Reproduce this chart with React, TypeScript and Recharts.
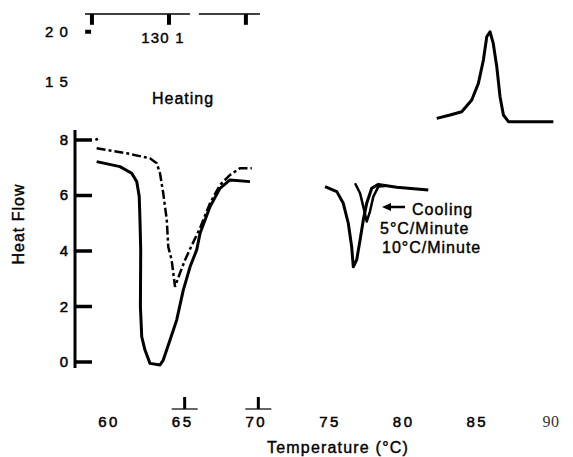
import React from 'react';
import { ComposedChart, Line, XAxis, YAxis, ReferenceLine } from 'recharts';

// heating scans (°C / heat flow)
const heat10Temp = [59.23, 60.81, 61.61, 61.95, 62.12, 62.17, 62.22, 62.2, 62.29, 62.51, 62.85, 63.53, 63.75, 64.21, 64.66, 65.11, 65.57, 66.02, 66.25, 66.93, 67.6, 68.28, 69.64];
const heat10Flow = [7.22, 7.04, 6.8, 6.5, 5.96, 5.12, 4.04, 1.99, 0.91, 0.43, -0.05, -0.11, 0.07, 0.79, 1.51, 2.59, 3.43, 4.04, 4.64, 5.6, 6.26, 6.56, 6.5];

const heat5Temp = [59.23, 61.27, 62.85, 63.31, 63.53, 63.75, 63.99, 64.09, 64.32, 64.55, 64.89, 65.23, 65.7, 66.25, 66.93, 67.6, 68.28, 68.96, 69.76];
const heat5Flow = [7.7, 7.52, 7.34, 7.16, 6.8, 6.08, 5.12, 4.15, 3.68, 2.71, 3.21, 3.68, 4.22, 4.83, 5.73, 6.38, 6.74, 6.98, 6.98];

// stray point above the dashed trace
const strayTemp = [59.23];
const strayFlow = [8.03];

// cooling scans
const cool10Temp = [74.73, 75.53, 75.97, 76.31, 76.54, 76.65, 76.88, 77.11, 77.33, 77.56, 77.9, 78.35, 79.6, 81.74];
const cool10Flow = [6.32, 6.14, 5.72, 5.0, 4.15, 3.43, 3.68, 4.4, 5.12, 5.72, 6.26, 6.4, 6.3, 6.2];

const cool5Temp = [76.77, 77.11, 77.33, 77.56, 77.78, 78.01, 78.35, 78.81];
const cool5Flow = [6.44, 6.08, 5.6, 5.06, 5.42, 5.96, 6.32, 6.34];

// the exotherm at the top right
const peakTemp = [82.31, 83.22, 84.01, 84.69, 85.14, 85.48, 85.71, 85.93, 86.15, 86.39, 86.61, 86.84, 87.18, 90.23];
const peakFlow = [8.78, 8.9, 9.02, 9.44, 10.04, 10.88, 11.72, 11.9, 11.48, 10.64, 9.56, 8.9, 8.66, 8.66];

const xTicks = [60, 65, 70, 75, 80, 85, 90];
const yTicks = [0, 2, 4, 6, 8];
const markedTicks = [65, 70];

// ruler along the top of the figure (°C)
const topRuleSegments = [[58.44, 65.56], [66.17, 70.31]];
const topRuleTicks = [58.91, 64.14, 69.36];

const X_MIN = 57.76;
const X_MAX = 91.02;
const Y_MIN = -0.216;
const Y_MAX = 12.54;

const zip = (t: number[], f: number[]) => t.map((temp, i) => ({ temp, flow: f[i] }));

const font = '"Liberation Sans", Arial, sans-serif';

const XTick = ({ x, y, payload }: any) => {
  const v = payload.value;
  const serif = v === 90;
  return (
    <g>
      {markedTicks.includes(v) && (
        <g>
          <line x1={x - 10} x2={x + 16} y1={y - 8} y2={y - 8} stroke="#000" strokeWidth={1.2} />
          <line x1={x + 3} x2={x + 3} y1={y - 20} y2={y - 8} stroke="#000" strokeWidth={3} />
        </g>
      )}
      <text
        x={x + 1}
        y={y}
        dy={10}
        textAnchor="middle"
        fontFamily={serif ? '"Liberation Serif", serif' : font}
        fontSize={serif ? 16 : 15}
        letterSpacing={serif ? 0.5 : 2.5}
        fill={serif ? '#333' : '#000'}
        stroke={serif ? 'none' : '#000'}
        strokeWidth={0.5}
      >
        {v}
      </text>
    </g>
  );
};

const YTick = ({ x, y, payload }: any) => (
  <g>
    <line x1={x + 7} x2={x + 24} y1={y} y2={y} stroke="#000" strokeWidth={3.5} />
    <text x={x} y={y} dy={5} textAnchor="end" fontFamily={font} fontSize={15} fill="#000" stroke="#000" strokeWidth={0.5}>
      {payload.value}
    </text>
  </g>
);

const txt = { fontFamily: font, fontSize: 16, letterSpacing: 1, fill: '#000', stroke: '#000', strokeWidth: 0.4 } as const;

export default function App() {
  return (
    <div style={{ position: 'absolute', left: 0, top: 0, width: 573, height: 457, background: '#fff' }}>
      <ComposedChart width={573} height={457} margin={{ top: 14, right: 8, bottom: 0, left: 0 }}>
        <XAxis
          dataKey="temp"
          type="number"
          domain={[X_MIN, X_MAX]}
          ticks={xTicks}
          axisLine={false}
          tickLine={false}
          tickSize={0}
          tickMargin={49}
          height={89}
          tick={<XTick />}
          allowDataOverflow
        />
        <YAxis
          type="number"
          domain={[Y_MIN, Y_MAX]}
          ticks={yTicks}
          axisLine={false}
          tickLine={false}
          tickSize={0}
          tickMargin={7}
          width={75}
          tick={<YTick />}
          allowDataOverflow
        />
        {/* the left axis only runs up to the 8 mark */}
        <ReferenceLine segment={[{ x: X_MIN, y: 8.36 }, { x: X_MIN, y: Y_MIN }]} stroke="#000" strokeWidth={3} ifOverflow="visible" />
        {topRuleSegments.map(([a, b], i) => (
          <ReferenceLine key={'r' + i} segment={[{ x: a, y: Y_MAX }, { x: b, y: Y_MAX }]} stroke="#000" strokeWidth={1.5} ifOverflow="visible" />
        ))}
        {topRuleTicks.map((t, i) => (
          <ReferenceLine key={'t' + i} segment={[{ x: t, y: Y_MAX }, { x: t, y: 12.15 }]} stroke="#000" strokeWidth={4} ifOverflow="visible" />
        ))}
        <ReferenceLine segment={[{ x: 58.45, y: 11.9 }, { x: 58.85, y: 11.9 }]} stroke="#000" strokeWidth={4} ifOverflow="visible" />

        <Line data={zip(heat10Temp, heat10Flow)} dataKey="flow" type="linear" stroke="#000" strokeWidth={3} strokeLinejoin="round" dot={false} isAnimationActive={false} />
        <Line data={zip(heat5Temp, heat5Flow)} dataKey="flow" type="linear" stroke="#000" strokeWidth={2.5} strokeDasharray="9 3 3 3" dot={false} isAnimationActive={false} />
        <Line data={zip(strayTemp, strayFlow)} dataKey="flow" stroke="none" dot={{ r: 1.5, fill: '#000', stroke: 'none' }} isAnimationActive={false} />
        <Line data={zip(cool10Temp, cool10Flow)} dataKey="flow" type="linear" stroke="#000" strokeWidth={3} strokeLinejoin="round" dot={false} isAnimationActive={false} />
        <Line data={zip(cool5Temp, cool5Flow)} dataKey="flow" type="linear" stroke="#000" strokeWidth={2.5} strokeLinejoin="round" dot={false} isAnimationActive={false} />
        <Line data={zip(peakTemp, peakFlow)} dataKey="flow" type="linear" stroke="#000" strokeWidth={3} strokeLinejoin="round" dot={false} isAnimationActive={false} />
      </ComposedChart>

      <svg width={573} height={457} style={{ position: 'absolute', left: 0, top: 0, pointerEvents: 'none' }}>
        <text x={45} y={37} {...txt} fontSize={15} letterSpacing={1}>2 0</text>
        <text x={45} y={87} {...txt} fontSize={15} letterSpacing={1}>1 5</text>
        <text x={163} y={43} {...txt} fontSize={15} letterSpacing={1.2} textAnchor="middle">130 1</text>
        <text x={152} y={104} {...txt}>Heating</text>
        <polygon points="382,207 391,203 391,211" fill="#000" />
        <line x1={390} x2={405} y1={207} y2={207} stroke="#000" strokeWidth={2.5} />
        <text x={412} y={215} {...txt}>Cooling</text>
        <text x={380} y={234} {...txt}>5°C/Minute</text>
        <text x={382} y={253} {...txt}>10°C/Minute</text>
        <text x={19} y={224} dy={5} {...txt} textAnchor="middle" transform="rotate(-90 19 224)">Heat Flow</text>
        <text x={338} y={453} {...txt} textAnchor="middle" letterSpacing={1.2}>Temperature (°C)</text>
      </svg>
    </div>
  );
}
